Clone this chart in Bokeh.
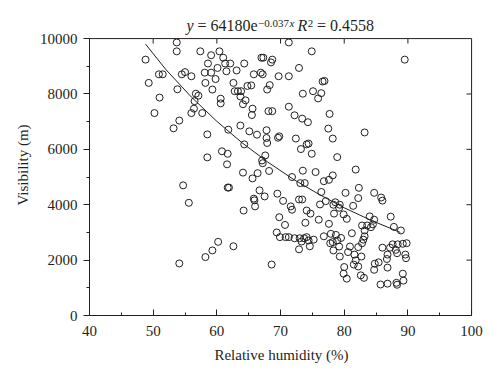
from bokeh.plotting import figure
from bokeh.models import Range1d, SingleIntervalTicker
from bokeh.core.properties import value
from bokeh.embed import file_html
from bokeh.resources import INLINE

humidity = [48.8, 53.7, 53.7, 57.4, 59.1, 60.4, 61.0, 61.3, 62.1, 64.3, 58.6, 60.1, 61.5, 63.1, 58.1,
            59.1, 50.9, 51.5, 54.5, 55.0, 56.0, 49.3, 58.2, 59.8, 62.6, 53.8, 59.3, 62.8, 63.3, 63.8,
            64.8, 56.7, 57.1, 51.0, 56.5, 60.6, 60.6, 63.7, 64.5, 64.1, 50.2, 56.4, 56.0, 57.7, 54.1,
            53.2, 58.5, 61.8, 63.7, 65.1, 64.3, 60.8, 61.7, 58.5, 61.6, 64.1, 65.6, 54.7, 61.7, 61.9,
            55.6, 64.2, 60.2, 59.3, 58.2, 62.6, 54.1, 71.3, 74.9, 67.0, 67.3, 68.7, 68.5, 72.9, 65.8,
            66.9, 67.2, 69.7, 71.3, 76.9, 76.6, 65.4, 68.3, 67.9, 73.5, 75.1, 76.4, 75.9, 65.6, 65.5,
            68.1, 68.7, 71.3, 72.2, 73.4, 74.3, 77.7, 77.5, 66.3, 67.8, 67.8, 67.9, 69.8, 69.6, 72.4,
            74.4, 74.1, 73.2, 78.2, 83.2, 74.9, 67.6, 67.1, 67.2, 78.9, 89.5, 66.4, 68.2, 71.8, 73.5,
            75.5, 73.1, 73.8, 76.8, 77.6, 78.2, 81.8, 66.7, 67.5, 65.8, 65.9, 66.0, 69.5, 70.4, 71.6,
            71.8, 72.9, 73.4, 76.4, 76.2, 77.1, 78.3, 78.6, 79.3, 79.2, 80.2, 82.3, 82.2, 84.7, 85.8,
            86.0, 81.4, 74.1, 74.7, 69.8, 76.0, 73.9, 77.6, 70.7, 78.4, 79.9, 80.4, 84.0, 84.7, 84.5,
            83.6, 82.8, 83.2, 84.2, 87.3, 87.8, 88.9, 81.2, 69.4, 69.9, 70.8, 71.3, 72.2, 73.0, 73.7,
            74.1, 73.3, 74.4, 75.2, 74.6, 72.9, 76.8, 77.9, 78.7, 79.5, 78.9, 78.2, 77.8, 79.2, 78.3,
            79.3, 80.0, 79.9, 80.4, 68.6, 83.2, 83.0, 82.8, 82.2, 80.9, 80.6, 81.6, 82.7, 81.8, 81.5,
            82.2, 82.6, 83.1, 84.8, 85.4, 84.7, 86.0, 87.2, 87.6, 88.4, 89.2, 89.8, 88.1, 88.3, 86.8,
            86.7, 89.6, 89.7, 86.8, 89.2, 89.3, 85.7, 86.8, 88.2, 88.3]
visibility = [9240, 9860, 9540, 9540, 9400, 9540, 9310, 9100, 9100, 9100, 9100, 8940, 8820, 8850, 8770,
              8770, 8710, 8710, 8710, 8790, 8640, 8400, 8400, 8540, 8400, 8170, 8160, 8100, 8100, 8100,
              8290, 8010, 7940, 7870, 7740, 7830, 7660, 7910, 7770, 7630, 7310, 7470, 7310, 7310, 7040,
              6760, 6540, 6710, 6860, 6650, 6180, 5930, 5840, 5710, 5460, 5160, 4950, 4700, 4620, 4620,
              4070, 3790, 2660, 2350, 2110, 2500, 1880, 9860, 9540, 9310, 9310, 9240, 9140, 8940, 8710,
              8770, 8710, 8640, 8640, 8470, 8450, 8310, 8320, 8160, 8010, 8100, 8030, 7840, 7470, 7240,
              7380, 7380, 7540, 7230, 7110, 6980, 7280, 6750, 6530, 6690, 6410, 6230, 6470, 6420, 6390,
              6210, 6180, 6010, 6390, 6610, 5840, 5780, 5600, 5500, 5720, 9240, 5140, 5220, 5000, 5230,
              5180, 4780, 4780, 4850, 4900, 5060, 5270, 4520, 4300, 4220, 4160, 3940, 4400, 4140, 3940,
              3820, 4190, 4190, 4460, 4010, 4130, 4000, 4090, 4000, 3890, 4430, 4610, 4240, 4430, 4260,
              4150, 3960, 3790, 3680, 3550, 3460, 3350, 3310, 3270, 3680, 3650, 3490, 3580, 3460, 3290,
              3250, 3250, 3070, 3190, 3570, 3200, 3070, 2970, 3000, 2830, 2830, 2830, 2790, 2790, 2790,
              2830, 2670, 2710, 2740, 2500, 2390, 2860, 2950, 2910, 2800, 2710, 2650, 2610, 2490, 2350,
              2130, 1750, 1510, 1330, 1840, 2860, 2740, 2610, 2470, 2490, 2290, 2200, 2130, 1990, 1840,
              1770, 1450, 1360, 1870, 1920, 1650, 2450, 2450, 2570, 2570, 2590, 2610, 2370, 2250, 2200,
              2040, 2200, 2070, 1730, 1510, 1260, 1120, 1150, 1180, 1110]

# fitted curve
curve_humidity = [48.8, 52, 56, 60, 64, 68, 72, 76, 80, 84, 88.8]
curve_visibility = [9800, 8880, 7890, 7010, 6230, 5540, 4920, 4380, 3890, 3460, 3000]

x_ticks = [40, 50, 60, 70, 80, 90, 100]
y_ticks = [0, 2000, 4000, 6000, 8000, 10000]

FONT = "Liberation Serif"
INK = "#231f20"

x0, x1 = float(x_ticks[0]), float(x_ticks[-1])
y0, y1 = float(y_ticks[0]), float(y_ticks[-1])
X_PAD = 0.3      # room so the right frame line is not clipped
Y_HEAD = 870     # room above the frame for the equation

p = figure(width=492, height=375, output_backend="svg", toolbar_location=None,
           x_range=Range1d(x0, x1 + X_PAD), y_range=Range1d(y0, y1 + Y_HEAD),
           min_border_left=89, min_border_right=19, min_border_top=14, min_border_bottom=60)
p.grid.visible = False
p.outline_line_color = None
p.background_fill_color = "white"
p.border_fill_color = "white"
p.title.visible = False


def style(ax):
    ax.axis_line_color = INK
    ax.major_tick_line_color = INK
    ax.minor_tick_line_color = INK
    ax.axis_line_width = 1
    ax.major_label_text_font = FONT
    ax.major_label_text_font_size = "15px"
    ax.major_label_text_color = INK
    ax.axis_label_text_font = FONT
    ax.axis_label_text_font_size = "15px"
    ax.axis_label_text_font_style = "normal"
    ax.axis_label_text_color = INK


xa = p.xaxis[0]
xa.ticker = SingleIntervalTicker(interval=10, num_minor_ticks=2)
xa.bounds = (x0, x1)
style(xa)
xa.major_tick_in, xa.major_tick_out = 6, 0
xa.minor_tick_in, xa.minor_tick_out = 3, 0
xa.major_label_standoff = 10
xa.axis_label = "Relative humidity (%)"
xa.axis_label_standoff = 8

ya = p.yaxis[0]
ya.ticker = SingleIntervalTicker(interval=2000, num_minor_ticks=2)
ya.bounds = (y0, y1)
style(ya)
ya.major_tick_in, ya.major_tick_out = 0, 6
ya.minor_tick_in, ya.minor_tick_out = 0, 3
ya.major_label_standoff = 6
ya.axis_label = "Visibility (m)"
ya.axis_label_standoff = 6

# data first
p.line(curve_humidity, curve_visibility, line_color=INK, line_width=1)
p.scatter(humidity, visibility, marker="circle", size=7, fill_color=None,
          line_color=INK, line_width=1)

# top and right sides of the box, running through the tick values
p.line(x=[float(t) for t in x_ticks], y=[y1] * len(x_ticks), line_color=INK, line_width=1)
p.line(x=[x1] * len(y_ticks), y=[float(t) for t in y_ticks], line_color=INK, line_width=1)

# inward tick marks on the top and right sides
TX = 0.8     # tick length in x units (~5 px)
TY = 180.0   # tick length in y units (~5 px)
tick_xs = [[float(t), float(t)] for t in x_ticks[1:-1]] + [[x1, x1 - TX] for _ in y_ticks[1:-1]]
tick_ys = [[y1, y1 - TY] for _ in x_ticks[1:-1]] + [[float(t), float(t)] for t in y_ticks[1:-1]]
p.multi_line(xs=tick_xs, ys=tick_ys, line_color=INK, line_width=1)

# equation above the frame, in pieces for the superscripts
MAIN_Y, SUP_Y = 10470, 10550
pieces = [
    ("y", 55.23, MAIN_Y, "italic", "16px"),
    ("= 64180e", 56.96, MAIN_Y, "normal", "16px"),
    ("\u22120.037", 66.46, SUP_Y, "normal", "11px"),
    ("x", 71.41, SUP_Y, "italic", "11px"),
    ("R", 72.66, MAIN_Y, "italic", "16px"),
    ("2", 74.28, SUP_Y, "normal", "11px"),
    ("= 0.4558", 75.73, MAIN_Y, "normal", "16px"),
]
for txt, x, y, st, fs in pieces:
    p.text(x=[x], y=[y], text=[txt], text_font=value(FONT), text_font_size=value(fs),
           text_font_style=st, text_color=INK, text_align="left",
           text_baseline="alphabetic")

open("out.html", "w").write(file_html(p, INLINE))
